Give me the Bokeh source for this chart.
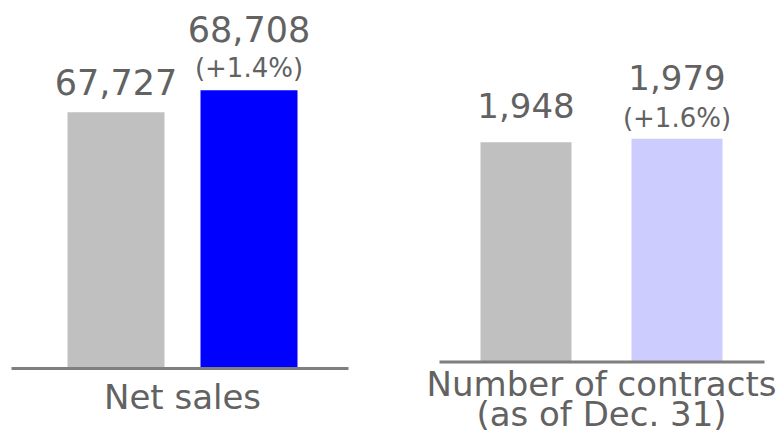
from bokeh.plotting import figure
from bokeh.layouts import row
from bokeh.models import Range1d, ColumnDataSource
from bokeh.core.properties import value
from bokeh.embed import file_html
from bokeh.resources import INLINE

# ---- data ----
periods = ["Previous year", "Current year"]
net_sales = [67727, 68708]
contracts = [1948, 1979]
sales_colors = ["#C0C0C0", "#0000FF"]
contract_colors = ["#C0C0C0", "#CCCCFF"]
sales_label_lines = ["Net sales"]
contracts_label_lines = ["Number of contracts", "(as of Dec. 31)"]
sales_axis_floor = 56300
contracts_axis_floor = 0

FONT = value("DejaVu Sans")
TEXT_COLOR = "#626262"
W, H = 392, 433


def panel(values, colors, label_lines, floor, ppu, step_px, first_center_px,
          bar_px, bottom_px, line_x0_px, line_x1_px, gap_plain, gap_top,
          gap_pct, label_first, label_step, value_size):
    n = len(values)
    x_start = -first_center_px / step_px
    x_end = x_start + W / step_px
    y_start = floor - bottom_px / ppu
    y_end = floor + (H - bottom_px) / ppu
    p = figure(width=W, height=H, output_backend="svg", toolbar_location=None,
               x_range=Range1d(x_start, x_end), y_range=Range1d(y_start, y_end),
               min_border=0, outline_line_color=None,
               background_fill_color="white", border_fill_color="white")
    p.xaxis.visible = False
    p.yaxis.visible = False
    p.xgrid.grid_line_color = None
    p.ygrid.grid_line_color = None

    idx = list(range(n))
    src = ColumnDataSource(dict(x=idx, top=values, color=colors, period=periods))
    p.vbar(x="x", top="top", bottom=floor, width=bar_px / step_px,
           fill_color="color", line_color=None, source=src)

    p.segment(x0=[x_start + line_x0_px / step_px], y0=[floor],
              x1=[x_start + line_x1_px / step_px], y1=[floor],
              line_color="#7F7F7F", line_width=3, line_cap="butt")

    # value labels
    texts = [f"{v:,}" for v in values]
    offs = [(-gap_top if i > 0 else -gap_plain) for i in idx]
    p.text(x=idx, y=values, text=texts, y_offset=offs, text_align="center",
           text_baseline="alphabetic", text_font=FONT,
           text_font_size=f"{value_size}px", text_color=TEXT_COLOR)
    # change labels
    pct_x, pct_y, pct_t = [], [], []
    for i in idx[1:]:
        ch = (values[i] - values[i - 1]) / values[i - 1] * 100
        pct_x.append(i)
        pct_y.append(values[i])
        pct_t.append(f"(+{ch:.1f}%)")
    p.text(x=pct_x, y=pct_y, text=pct_t, y_offset=-gap_pct, text_align="center",
           text_baseline="alphabetic", text_font=FONT,
           text_font_size="26px", text_color=TEXT_COLOR)

    mid = (n - 1) / 2
    for j, line in enumerate(label_lines):
        p.text(x=[mid], y=[floor], text=[line], y_offset=label_first + j * label_step,
               text_align="center", text_baseline="alphabetic", text_font=FONT,
               text_font_size="34px", text_color=TEXT_COLOR)
    return p


left = panel(net_sales, sales_colors, sales_label_lines, sales_axis_floor,
             ppu=22 / 981, step_px=133, first_center_px=115.5, bar_px=97,
             bottom_px=65, line_x0_px=11, line_x1_px=348,
             gap_plain=30, gap_top=61, gap_pct=22,
             label_first=28.5, label_step=30, value_size=35)

right = panel(contracts, contract_colors, contracts_label_lines, contracts_axis_floor,
              ppu=0.1128, step_px=151, first_center_px=133.5, bar_px=91,
              bottom_px=71.5, line_x0_px=47, line_x1_px=372,
              gap_plain=37, gap_top=61, gap_pct=21,
              label_first=22, label_step=30, value_size=34)

layout = row(left, right, spacing=0)
open("out.html", "w").write(file_html(layout, INLINE))
